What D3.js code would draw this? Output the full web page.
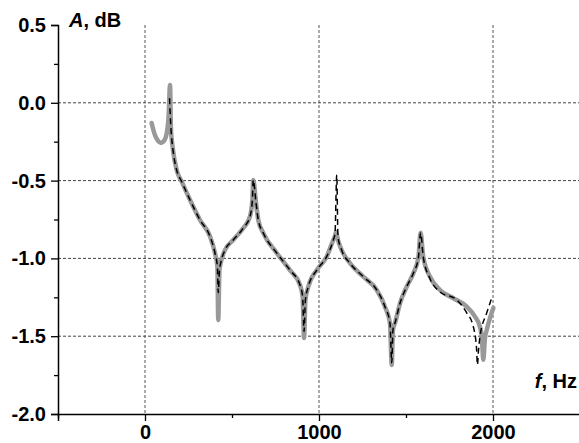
<!DOCTYPE html>
<html>
<head>
<meta charset="utf-8">
<script src="https://d3js.org/d3.v7.min.js"></script>
<style>
  body { margin: 0; background: #fff; }
  text { font-family: "Liberation Sans", Arial, sans-serif; font-weight: bold; }
</style>
</head>
<body>
<div id="my_dataviz"></div>
<script>
// measured curve (grey, thick) - frequency in Hz, amplitude in dB
var measFreq = [38, 57, 75, 92, 109, 126, 135, 144, 149, 161, 182, 211, 259, 316, 374, 402, 416, 421, 428, 435,
  460, 507, 565, 603, 617, 622, 638, 651, 680, 757, 833, 891, 906, 914, 922, 938, 987, 1044, 1082, 1092,
  1098, 1109, 1130, 1178, 1255, 1332, 1379, 1408, 1418, 1425, 1437, 1466, 1504, 1542, 1571, 1584, 1599, 1638, 1695, 1772,
  1849, 1897, 1925, 1937, 1944, 1954, 1964, 1983, 2002];
var measAmp = [-0.13, -0.207, -0.245, -0.258, -0.245, -0.188, -0.098, 0.115, -0.162, -0.303, -0.432, -0.507, -0.625, -0.753, -0.86, -0.965, -1.053, -1.396, -1.075, -1.03,
  -0.946, -0.882, -0.805, -0.732, -0.625, -0.496, -0.643, -0.753, -0.837, -0.965, -1.075, -1.171, -1.248, -1.511, -1.267, -1.184, -1.075, -0.989, -0.882, -0.856,
  -0.828, -0.882, -0.946, -1.031, -1.118, -1.203, -1.31, -1.417, -1.685, -1.46, -1.415, -1.287, -1.182, -1.096, -0.997, -0.835, -0.989, -1.118, -1.203, -1.256,
  -1.31, -1.375, -1.439, -1.524, -1.652, -1.511, -1.46, -1.382, -1.318];

// calculated curve (black, dashed)
var calcFreq = [141, 149, 161, 182, 211, 259, 316, 374, 402, 416, 421, 428, 435,
  460, 507, 565, 603, 617, 622, 638, 651, 680, 757, 833, 891, 906, 914, 922, 938, 987, 1044, 1082, 1092,
  1102, 1109, 1130, 1178, 1255, 1332, 1379, 1408, 1418, 1425, 1437, 1466, 1504, 1542, 1571, 1584, 1599, 1638, 1695, 1791,
  1849, 1887, 1906, 1910, 1917, 1925, 1964, 1993];
var calcAmp = [0.03, -0.162, -0.303, -0.432, -0.507, -0.625, -0.753, -0.86, -0.965, -1.053, -1.22, -1.075, -1.03,
  -0.946, -0.882, -0.805, -0.732, -0.625, -0.496, -0.643, -0.753, -0.837, -0.965, -1.075, -1.171, -1.248, -1.47, -1.267, -1.184, -1.075, -0.989, -0.882, -0.84,
  -0.463, -0.86, -0.946, -1.031, -1.118, -1.203, -1.31, -1.417, -1.67, -1.46, -1.415, -1.287, -1.182, -1.096, -0.997, -0.835, -0.989, -1.131, -1.215, -1.266,
  -1.35, -1.439, -1.588, -1.684, -1.588, -1.503, -1.35, -1.254];

var xTicks = [0, 1000, 2000];
var xMinor = [-500, 500, 1500, 2500];
var yTicks = [0.5, 0.0, -0.5, -1.0, -1.5, -2.0];
var yMinor = [0.25, -0.25, -0.75, -1.25, -1.75];
var xGrid = [0, 1000, 2000];
var yGrid = [0.0, -0.5, -1.0, -1.5];

var width = 579, height = 443;

var svg = d3.select("#my_dataviz")
  .append("svg")
    .attr("width", width)
    .attr("height", height);

// scales
var x = d3.scaleLinear().domain([-500, 2500]).range([58, 580]);
var y = d3.scaleLinear().domain([0.5, -2.0]).range([25, 414]);

// grid
svg.append("g").selectAll("line.v")
  .data(xGrid).enter().append("line")
    .attr("x1", function(d) { return x(d); })
    .attr("x2", function(d) { return x(d); })
    .attr("y1", y(0.5)).attr("y2", y(-2.0))
    .attr("stroke", "#555").attr("stroke-width", 1)
    .attr("stroke-dasharray", "3,2");
svg.append("g").selectAll("line.h")
  .data(yGrid).enter().append("line")
    .attr("x1", x(-500)).attr("x2", width)
    .attr("y1", function(d) { return y(d); })
    .attr("y2", function(d) { return y(d); })
    .attr("stroke", "#444").attr("stroke-width", 1)
    .attr("stroke-dasharray", "3,2");

// axes (plain hyphen for negatives like the original)
var fmt = function(d) { return d3.format(".1f")(d).replace("\u2212", "-"); };
var yAxis = svg.append("g")
  .attr("transform", "translate(" + x(-500) + ",0)")
  .call(d3.axisLeft(y).tickValues(yTicks).tickSize(7).tickFormat(fmt));
svg.append("g")
  .attr("transform", "translate(" + x(-500) + ",0)")
  .call(d3.axisLeft(y).tickValues(yMinor).tickSize(4).tickFormat(""))
  .select(".domain").remove();

var xAxis = svg.append("g")
  .attr("transform", "translate(0," + y(-2.0) + ")")
  .call(d3.axisBottom(x).tickValues(xTicks).tickSize(7).tickFormat(d3.format("d")));
svg.append("g")
  .attr("transform", "translate(0," + y(-2.0) + ")")
  .call(d3.axisBottom(x).tickValues(xMinor).tickSize(4).tickFormat(""))
  .select(".domain").remove();

svg.selectAll(".domain").attr("stroke", "#000").attr("stroke-width", 1.5);
svg.selectAll(".tick line").attr("stroke", "#000").attr("stroke-width", 1.3);

yAxis.selectAll("text")
  .attr("x", -12)
  .style("font-size", "20px")
  .style("font-family", "Liberation Sans, Arial, sans-serif")
  .style("font-weight", "bold")
  .attr("fill", "#000");
xAxis.selectAll("text")
  .attr("y", 11)
  .style("font-size", "20px")
  .style("font-family", "Liberation Sans, Arial, sans-serif")
  .style("font-weight", "bold")
  .attr("fill", "#000");

// axis titles
var yTitle = svg.append("text").attr("x", 69).attr("y", 27).style("font-size", "20px");
yTitle.append("tspan").style("font-style", "italic").text("A");
yTitle.append("tspan").text(", dB");

var xTitle = svg.append("text").attr("x", 577).attr("y", 388)
  .attr("text-anchor", "end").style("font-size", "20px");
xTitle.append("tspan").style("font-style", "italic").text("f");
xTitle.append("tspan").text(", Hz");

// lines
var line = d3.line()
  .x(function(d) { return x(d[0]); })
  .y(function(d) { return y(d[1]); })
  .curve(d3.curveMonotoneX);

svg.append("path")
  .datum(d3.zip(measFreq, measAmp))
  .attr("d", line)
  .attr("fill", "none")
  .attr("stroke", "#999")
  .attr("stroke-width", 4.5)
  .attr("stroke-linejoin", "round")
  .attr("stroke-linecap", "round");

svg.append("path")
  .datum(d3.zip(calcFreq, calcAmp))
  .attr("d", line)
  .attr("fill", "none")
  .attr("stroke", "#000")
  .attr("stroke-width", 1.5)
  .attr("stroke-dasharray", "6,4");
</script>
</body>
</html>
